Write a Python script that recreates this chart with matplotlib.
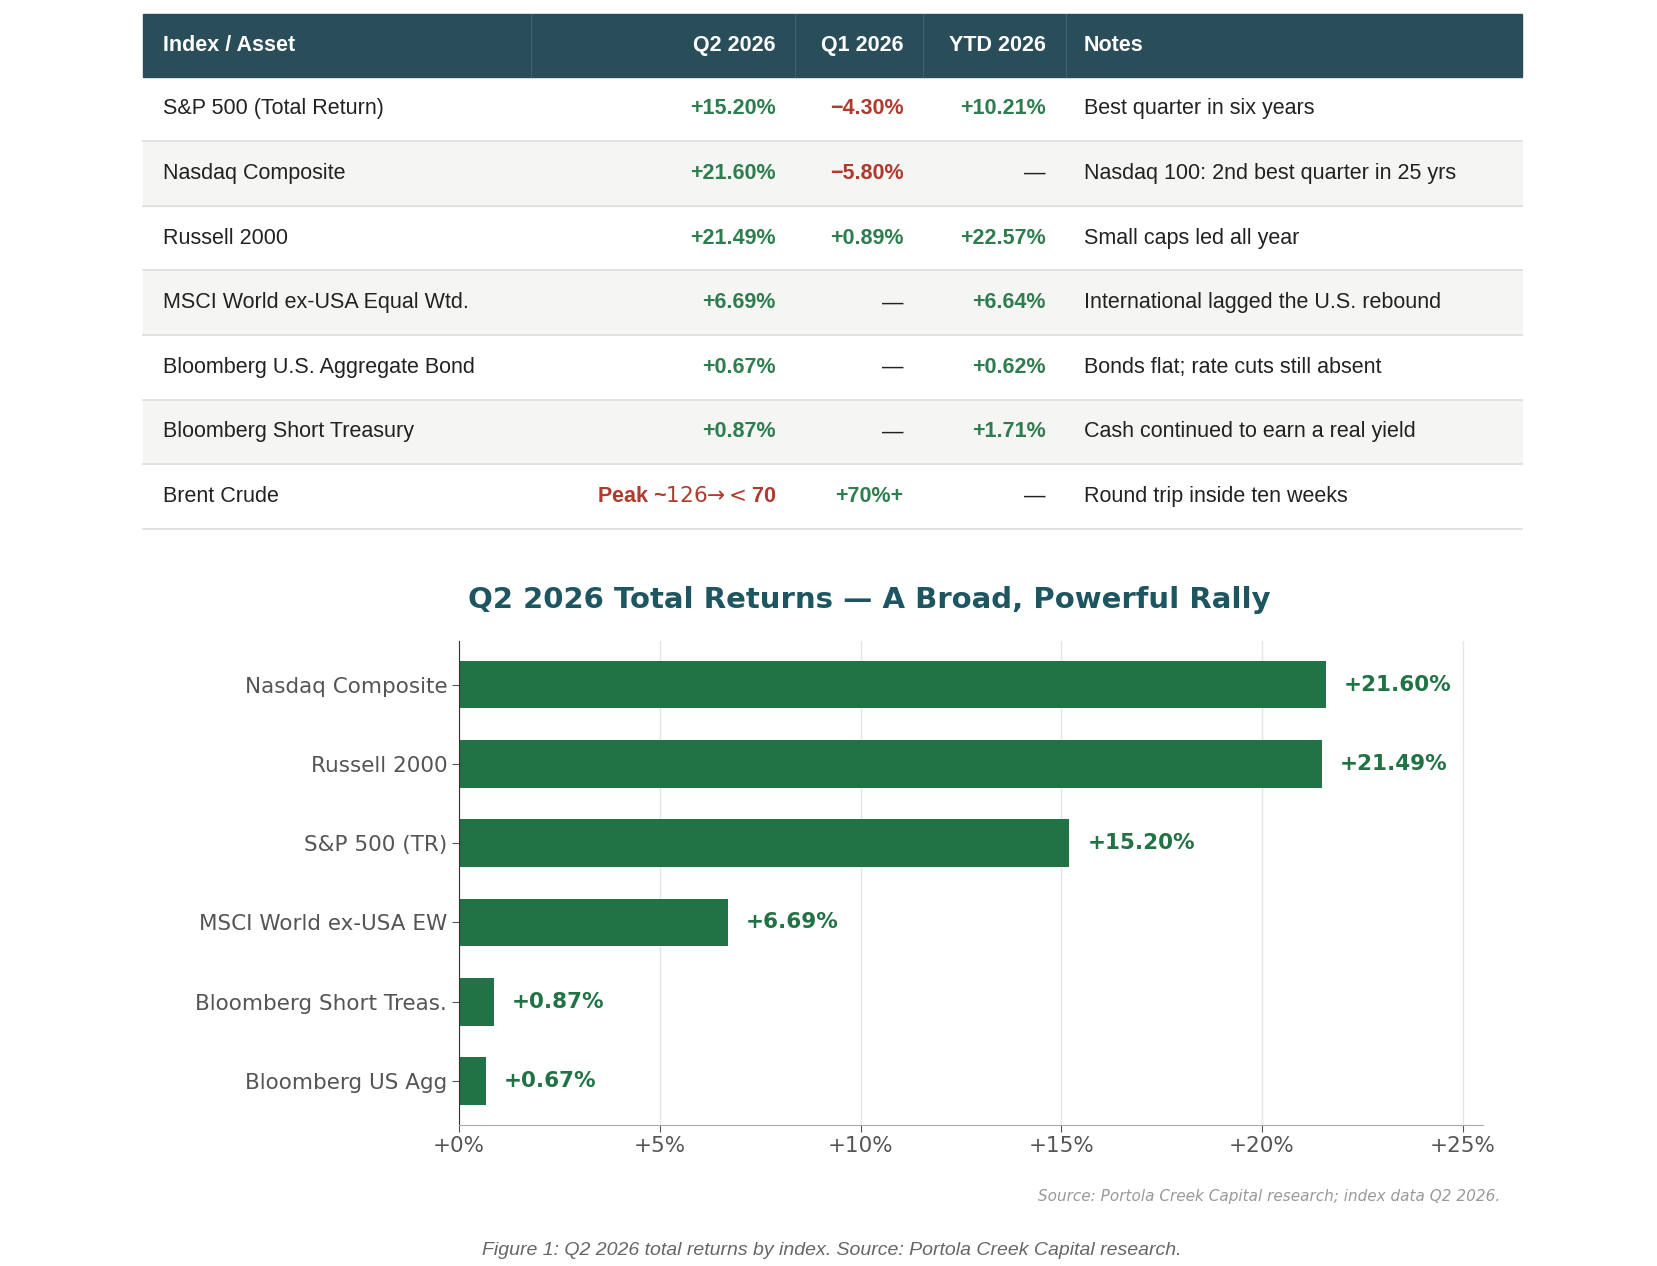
import matplotlib.pyplot as plt
from matplotlib.patches import Rectangle

# table data
rows = ['S&P 500 (Total Return)', 'Nasdaq Composite', 'Russell 2000', 'MSCI World ex-USA Equal Wtd.',
        'Bloomberg U.S. Aggregate Bond', 'Bloomberg Short Treasury', 'Brent Crude']
q2 = ['+15.20%', '+21.60%', '+21.49%', '+6.69%', '+0.67%', '+0.87%', 'Peak ~$126 → <$70']
q1 = ['\u22124.30%', '\u22125.80%', '+0.89%', '—', '—', '—', '+70%+']
ytd = ['+10.21%', '—', '+22.57%', '+6.64%', '+0.62%', '+1.71%', '—']
notes = ['Best quarter in six years', 'Nasdaq 100: 2nd best quarter in 25 yrs', 'Small caps led all year',
         'International lagged the U.S. rebound', 'Bonds flat; rate cuts still absent',
         'Cash continued to earn a real yield', 'Round trip inside ten weeks']
headers = ['Index / Asset', 'Q2 2026', 'Q1 2026', 'YTD 2026', 'Notes']

# bar chart data
labels = ['Nasdaq Composite', 'Russell 2000', 'S&P 500 (TR)', 'MSCI World ex-USA EW',
          'Bloomberg Short Treas.', 'Bloomberg US Agg']
values = [21.60, 21.49, 15.20, 6.69, 0.87, 0.67]

GREEN = '#2e7d4f'
RED = '#b03a2e'
HEAD = '#2a4d5a'
W, H = 1560, 1191


def fx(px):
    return px / W


def fy(py):
    return 1 - py / H


def color_for(s):
    if s == '—':
        return '#222222'
    if s.startswith('+'):
        return GREEN
    return RED


fig = plt.figure(figsize=(16.58, 12.66), dpi=100)
fig.patch.set_facecolor('white')

# header
fig.patches.append(Rectangle((fx(135), fy(72)), fx(1432) - fx(135), fy(13) - fy(72),
                             transform=fig.transFigure, color=HEAD, zorder=0))
for xb in [500, 748, 868, 1003]:
    fig.add_artist(plt.Line2D([fx(xb), fx(xb)], [fy(72), fy(13)], color='#3d6270', lw=0.8))
hy = fy(43)
hfont = dict(color='white', fontsize=15.5, fontweight='bold', family='Liberation Sans', va='center')
fig.text(fx(153), hy, headers[0], ha='left', **hfont)
fig.text(fx(730), hy, headers[1], ha='right', **hfont)
fig.text(fx(850), hy, headers[2], ha='right', **hfont)
fig.text(fx(984), hy, headers[3], ha='right', **hfont)
fig.text(fx(1020), hy, headers[4], ha='left', **hfont)

row_h = 60.8
for i in range(len(rows)):
    top = 72 + i * row_h
    bot = top + row_h
    if i % 2 == 1:
        fig.patches.append(Rectangle((fx(135), fy(bot)), fx(1432) - fx(135), fy(top) - fy(bot),
                                     transform=fig.transFigure, color='#f5f5f3', zorder=0))
    fig.add_artist(plt.Line2D([fx(135), fx(1432)], [fy(bot), fy(bot)], color='#dddddd', lw=1.2))
    cy = fy((top + bot) / 2)
    base = dict(fontsize=15.5, family='Liberation Sans', va='center')
    fig.text(fx(153), cy, rows[i], ha='left', color='#222222', **base)
    fig.text(fx(1020), cy, notes[i], ha='left', color='#222222', **base)
    for s, xr in [(q2[i], 730), (q1[i], 850), (ytd[i], 984)]:
        c = color_for(s)
        if s.startswith('Peak'):
            c = RED
        fig.text(fx(xr), cy, s, ha='right', color=c, fontweight='normal' if s == '—' else 'bold', **base)

# bar chart
ax = fig.add_axes([fx(432), fy(1058), fx(1395) - fx(432), fy(603) - fy(1058)])
y = list(range(len(labels)))
ax.barh(y, values, height=0.6, color='#217346', zorder=2)
ax.invert_yaxis()
ax.set_yticks(y)
ax.set_yticklabels(labels, fontsize=15.5, color='#555555')
ax.set_xlim(0, 25.5)
ax.set_ylim(5.55, -0.55)
ax.set_xticks([0, 5, 10, 15, 20, 25])
ax.set_xticklabels(['+0%', '+5%', '+10%', '+15%', '+20%', '+25%'], fontsize=15.5, color='#555555')
ax.grid(axis='x', color='#e5e5e5', lw=1, zorder=0)
for s in ['top', 'right']:
    ax.spines[s].set_visible(False)
ax.spines['left'].set_color('#333333')
ax.spines['bottom'].set_color('#aaaaaa')
ax.tick_params(axis='both', length=5, color='#555555')
for yi, v in zip(y, values):
    ax.text(v + 0.45, yi, f'+{v:.2f}%', va='center', ha='left', fontsize=15.5,
            fontweight='bold', color='#217346')

fig.text(fx(818), fy(564), 'Q2 2026 Total Returns — A Broad, Powerful Rally', ha='center', va='center',
         fontsize=21, fontweight='bold', color='#1d5560')
fig.text(fx(1412), fy(1126), 'Source: Portola Creek Capital research; index data Q2 2026.', ha='right',
         va='center', fontsize=11, style='italic', color='#999999')
fig.text(fx(783), fy(1176), 'Figure 1: Q2 2026 total returns by index. Source: Portola Creek Capital research.',
         ha='center', va='center', fontsize=14, style='italic', color='#666666', family='Liberation Sans')

fig.savefig('out.png', dpi=100)
